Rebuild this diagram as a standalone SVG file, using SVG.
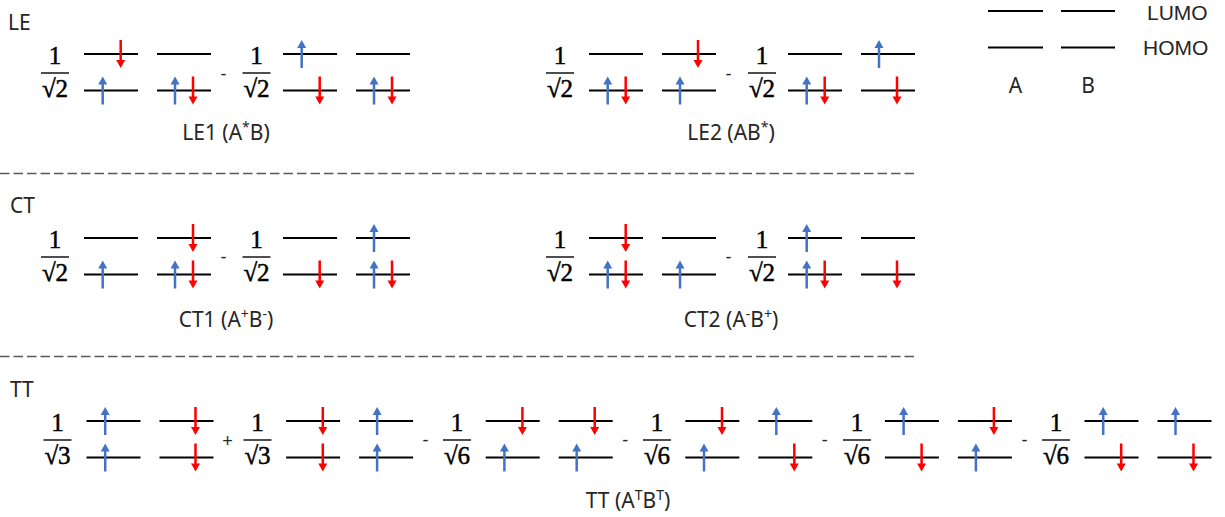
<svg xmlns="http://www.w3.org/2000/svg" xmlns:xlink="http://www.w3.org/1999/xlink" width="1225" height="517" viewBox="0 0 1225 517">
<style>
.lv{stroke:#000;stroke-width:2;fill:none}
.bar{stroke:#222;stroke-width:1.6}
.num{font-family:"Liberation Serif",serif;font-size:25px;fill:#000;stroke:#000;stroke-width:0.5;text-anchor:middle}
.lab{font-family:"Noto Sans","Liberation Sans",sans-serif;font-size:21px;fill:#262626}
.leg{font-family:"Liberation Sans",sans-serif;font-size:21px;fill:#262626}
.mid{text-anchor:middle}
.op{font-family:"Liberation Sans",sans-serif;font-size:18px;fill:#262626;text-anchor:middle}
.sup{font-size:14px}
.dash{stroke:#595959;stroke-width:1.5;stroke-dasharray:9.5 4}
</style>
<defs>
<g id="up"><rect x="-1.25" y="-7" width="2.5" height="21" fill="#4472C4"/><polygon points="-4.5,-6 4.5,-6 0,-14" fill="#4472C4"/></g>
<g id="dn"><rect x="-1.25" y="-14" width="2.5" height="21" fill="#FF0000"/><polygon points="-4.5,6 4.5,6 0,14" fill="#FF0000"/></g>
</defs>
<rect width="1225" height="517" fill="#fff"/>

<g id="legend">
<line class="lv" x1="988" y1="11" x2="1043" y2="11"/><line class="lv" x1="1061" y1="11" x2="1115" y2="11"/>
<line class="lv" x1="988" y1="47.5" x2="1043" y2="47.5"/><line class="lv" x1="1061" y1="47.5" x2="1115" y2="47.5"/>
<text class="leg" x="1147" y="20">LUMO</text>
<text class="leg" x="1143" y="55">HOMO</text>
<text class="lab mid" x="1015.5" y="93">A</text>
<text class="lab mid" x="1088" y="93">B</text>
</g>

<g id="separators">
<line class="dash" x1="0" y1="173.5" x2="916" y2="173.5"/>
<line class="dash" x1="0" y1="356.5" x2="916" y2="356.5"/>
</g>

<!-- LE section -->
<g id="LE">
<text class="lab" x="8" y="30">LE</text>
<g id="LE1">
<g id="LE1-t1">
<text class="num" x="55" y="63.5">1</text><line class="bar" x1="41" y1="73" x2="69" y2="73"/><text class="num" x="55" y="97">√2</text>
<line class="lv" x1="84" y1="54" x2="138" y2="54"/><line class="lv" x1="157" y1="54" x2="211" y2="54"/>
<line class="lv" x1="84" y1="90.5" x2="138" y2="90.5"/><line class="lv" x1="157" y1="90.5" x2="211" y2="90.5"/>
<use href="#dn" x="120.7" y="54"/><use href="#up" x="102.7" y="90.5"/><use href="#up" x="175" y="90.5"/><use href="#dn" x="193" y="90.5"/>
</g>
<text class="op" x="223.5" y="80">-</text>
<g id="LE1-t2">
<text class="num" x="256.5" y="63.5">1</text><line class="bar" x1="242.5" y1="73" x2="270.5" y2="73"/><text class="num" x="256.5" y="97">√2</text>
<line class="lv" x1="283" y1="54" x2="337" y2="54"/><line class="lv" x1="356" y1="54" x2="410" y2="54"/>
<line class="lv" x1="283" y1="90.5" x2="337" y2="90.5"/><line class="lv" x1="356" y1="90.5" x2="410" y2="90.5"/>
<use href="#up" x="301.7" y="54"/><use href="#dn" x="319.7" y="90.5"/><use href="#up" x="374" y="90.5"/><use href="#dn" x="392" y="90.5"/>
</g>
<text class="lab mid" x="226" y="140">LE1 (A<tspan class="sup" dy="-8">*</tspan><tspan dy="8">B)</tspan></text>
</g>
<g id="LE2">
<g id="LE2-t1">
<text class="num" x="560" y="63.5">1</text><line class="bar" x1="546" y1="73" x2="574" y2="73"/><text class="num" x="560" y="97">√2</text>
<line class="lv" x1="589" y1="54" x2="643" y2="54"/><line class="lv" x1="662" y1="54" x2="716" y2="54"/>
<line class="lv" x1="589" y1="90.5" x2="643" y2="90.5"/><line class="lv" x1="662" y1="90.5" x2="716" y2="90.5"/>
<use href="#up" x="607.7" y="90.5"/><use href="#dn" x="625.7" y="90.5"/><use href="#dn" x="698" y="54"/><use href="#up" x="680" y="90.5"/>
</g>
<text class="op" x="728.5" y="80">-</text>
<g id="LE2-t2">
<text class="num" x="762" y="63.5">1</text><line class="bar" x1="748" y1="73" x2="776" y2="73"/><text class="num" x="762" y="97">√2</text>
<line class="lv" x1="788" y1="54" x2="842" y2="54"/><line class="lv" x1="861" y1="54" x2="915" y2="54"/>
<line class="lv" x1="788" y1="90.5" x2="842" y2="90.5"/><line class="lv" x1="861" y1="90.5" x2="915" y2="90.5"/>
<use href="#up" x="806.7" y="90.5"/><use href="#dn" x="824.7" y="90.5"/><use href="#up" x="879" y="54"/><use href="#dn" x="897" y="90.5"/>
</g>
<text class="lab mid" x="731" y="140">LE2 (AB<tspan class="sup" dy="-8">*</tspan><tspan dy="8">)</tspan></text>
</g>
</g>

<!-- CT section -->
<g id="CT">
<text class="lab" x="10" y="213">CT</text>
<g id="CT1">
<g id="CT1-t1">
<text class="num" x="55" y="247.5">1</text><line class="bar" x1="41" y1="257" x2="69" y2="257"/><text class="num" x="55" y="281">√2</text>
<line class="lv" x1="84" y1="238" x2="138" y2="238"/><line class="lv" x1="157" y1="238" x2="211" y2="238"/>
<line class="lv" x1="84" y1="274.5" x2="138" y2="274.5"/><line class="lv" x1="157" y1="274.5" x2="211" y2="274.5"/>
<use href="#up" x="102.7" y="274.5"/><use href="#dn" x="193" y="238"/><use href="#up" x="175" y="274.5"/><use href="#dn" x="193" y="274.5"/>
</g>
<text class="op" x="223.5" y="263">-</text>
<g id="CT1-t2">
<text class="num" x="256.5" y="247.5">1</text><line class="bar" x1="242.5" y1="257" x2="270.5" y2="257"/><text class="num" x="256.5" y="281">√2</text>
<line class="lv" x1="283" y1="238" x2="337" y2="238"/><line class="lv" x1="356" y1="238" x2="410" y2="238"/>
<line class="lv" x1="283" y1="274.5" x2="337" y2="274.5"/><line class="lv" x1="356" y1="274.5" x2="410" y2="274.5"/>
<use href="#dn" x="319.7" y="274.5"/><use href="#up" x="374" y="238"/><use href="#up" x="374" y="274.5"/><use href="#dn" x="392" y="274.5"/>
</g>
<text class="lab mid" x="226" y="327">CT1 (A<tspan class="sup" dy="-8">+</tspan><tspan dy="8">B</tspan><tspan class="sup" dy="-8">-</tspan><tspan dy="8">)</tspan></text>
</g>
<g id="CT2">
<g id="CT2-t1">
<text class="num" x="560" y="247.5">1</text><line class="bar" x1="546" y1="257" x2="574" y2="257"/><text class="num" x="560" y="281">√2</text>
<line class="lv" x1="589" y1="238" x2="643" y2="238"/><line class="lv" x1="662" y1="238" x2="716" y2="238"/>
<line class="lv" x1="589" y1="274.5" x2="643" y2="274.5"/><line class="lv" x1="662" y1="274.5" x2="716" y2="274.5"/>
<use href="#dn" x="625.7" y="238"/><use href="#up" x="607.7" y="274.5"/><use href="#dn" x="625.7" y="274.5"/><use href="#up" x="680" y="274.5"/>
</g>
<text class="op" x="728.5" y="263">-</text>
<g id="CT2-t2">
<text class="num" x="762" y="247.5">1</text><line class="bar" x1="748" y1="257" x2="776" y2="257"/><text class="num" x="762" y="281">√2</text>
<line class="lv" x1="788" y1="238" x2="842" y2="238"/><line class="lv" x1="861" y1="238" x2="915" y2="238"/>
<line class="lv" x1="788" y1="274.5" x2="842" y2="274.5"/><line class="lv" x1="861" y1="274.5" x2="915" y2="274.5"/>
<use href="#up" x="806.7" y="238"/><use href="#up" x="806.7" y="274.5"/><use href="#dn" x="824.7" y="274.5"/><use href="#dn" x="897" y="274.5"/>
</g>
<text class="lab mid" x="731" y="327">CT2 (A<tspan class="sup" dy="-8">-</tspan><tspan dy="8">B</tspan><tspan class="sup" dy="-8">+</tspan><tspan dy="8">)</tspan></text>
</g>
</g>

<!-- TT section -->
<g id="TT">
<text class="lab" x="10" y="397">TT</text>
<g id="TT-t1">
<text class="num" x="57.5" y="430.5">1</text><line class="bar" x1="43.5" y1="440" x2="71.5" y2="440"/><text class="num" x="57.5" y="464">√3</text>
<line class="lv" x1="86.5" y1="421" x2="140.5" y2="421"/><line class="lv" x1="159.5" y1="421" x2="213.5" y2="421"/>
<line class="lv" x1="86.5" y1="457.5" x2="140.5" y2="457.5"/><line class="lv" x1="159.5" y1="457.5" x2="213.5" y2="457.5"/>
<use href="#up" x="105.2" y="421"/><use href="#up" x="105.2" y="457.5"/><use href="#dn" x="195.5" y="421"/><use href="#dn" x="195.5" y="457.5"/>
</g>
<text class="op" x="227.5" y="446.5">+</text>
<g id="TT-t2">
<text class="num" x="257.5" y="430.5">1</text><line class="bar" x1="243.5" y1="440" x2="271.5" y2="440"/><text class="num" x="257.5" y="464">√3</text>
<line class="lv" x1="286.1" y1="421" x2="340.1" y2="421"/><line class="lv" x1="359.1" y1="421" x2="413.1" y2="421"/>
<line class="lv" x1="286.1" y1="457.5" x2="340.1" y2="457.5"/><line class="lv" x1="359.1" y1="457.5" x2="413.1" y2="457.5"/>
<use href="#dn" x="322.8" y="421"/><use href="#dn" x="322.8" y="457.5"/><use href="#up" x="377.1" y="421"/><use href="#up" x="377.1" y="457.5"/>
</g>
<text class="op" x="425.6" y="446">-</text>
<g id="TT-t3">
<text class="num" x="457" y="430.5">1</text><line class="bar" x1="443" y1="440" x2="471" y2="440"/><text class="num" x="457" y="464">√6</text>
<line class="lv" x1="485.7" y1="421" x2="539.7" y2="421"/><line class="lv" x1="558.7" y1="421" x2="612.7" y2="421"/>
<line class="lv" x1="485.7" y1="457.5" x2="539.7" y2="457.5"/><line class="lv" x1="558.7" y1="457.5" x2="612.7" y2="457.5"/>
<use href="#dn" x="522.4" y="421"/><use href="#up" x="504.4" y="457.5"/><use href="#dn" x="594.7" y="421"/><use href="#up" x="576.7" y="457.5"/>
</g>
<text class="op" x="625.2" y="446">-</text>
<g id="TT-t4">
<text class="num" x="657" y="430.5">1</text><line class="bar" x1="643" y1="440" x2="671" y2="440"/><text class="num" x="657" y="464">√6</text>
<line class="lv" x1="685.3" y1="421" x2="739.3" y2="421"/><line class="lv" x1="758.3" y1="421" x2="812.3" y2="421"/>
<line class="lv" x1="685.3" y1="457.5" x2="739.3" y2="457.5"/><line class="lv" x1="758.3" y1="457.5" x2="812.3" y2="457.5"/>
<use href="#dn" x="722" y="421"/><use href="#up" x="704" y="457.5"/><use href="#up" x="776.3" y="421"/><use href="#dn" x="794.3" y="457.5"/>
</g>
<text class="op" x="824.8" y="446">-</text>
<g id="TT-t5">
<text class="num" x="857" y="430.5">1</text><line class="bar" x1="843" y1="440" x2="871" y2="440"/><text class="num" x="857" y="464">√6</text>
<line class="lv" x1="884.9" y1="421" x2="938.9" y2="421"/><line class="lv" x1="957.9" y1="421" x2="1011.9" y2="421"/>
<line class="lv" x1="884.9" y1="457.5" x2="938.9" y2="457.5"/><line class="lv" x1="957.9" y1="457.5" x2="1011.9" y2="457.5"/>
<use href="#up" x="903.6" y="421"/><use href="#dn" x="921.6" y="457.5"/><use href="#dn" x="993.9" y="421"/><use href="#up" x="975.9" y="457.5"/>
</g>
<text class="op" x="1024.4" y="446">-</text>
<g id="TT-t6">
<text class="num" x="1056" y="430.5">1</text><line class="bar" x1="1042" y1="440" x2="1070" y2="440"/><text class="num" x="1056" y="464">√6</text>
<line class="lv" x1="1084.5" y1="421" x2="1138.5" y2="421"/><line class="lv" x1="1157.5" y1="421" x2="1211.5" y2="421"/>
<line class="lv" x1="1084.5" y1="457.5" x2="1138.5" y2="457.5"/><line class="lv" x1="1157.5" y1="457.5" x2="1211.5" y2="457.5"/>
<use href="#up" x="1103.2" y="421"/><use href="#dn" x="1121.2" y="457.5"/><use href="#up" x="1175.5" y="421"/><use href="#dn" x="1193.5" y="457.5"/>
</g>
<text class="lab mid" x="628" y="508">TT (A<tspan class="sup" dy="-8">T</tspan><tspan dy="8">B</tspan><tspan class="sup" dy="-8">T</tspan><tspan dy="8">)</tspan></text>
</g>
</svg>
